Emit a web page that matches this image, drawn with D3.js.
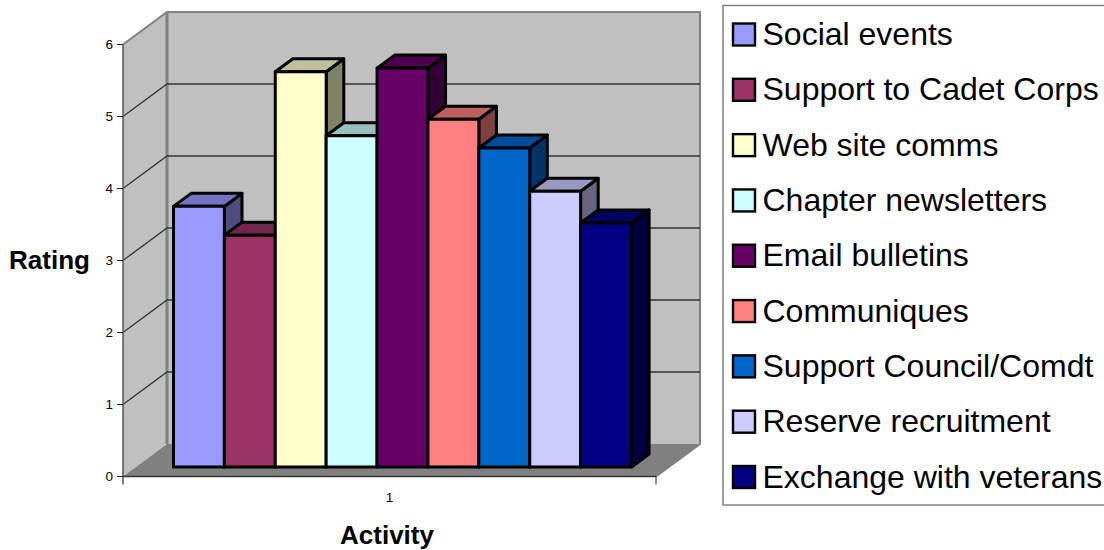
<!DOCTYPE html>
<html><head><meta charset="utf-8">
<script src="https://cdn.jsdelivr.net/npm/d3@7"></script>
<style>html,body{margin:0;padding:0;background:#fff;overflow:hidden}svg{display:block}text{font-family:"Liberation Sans",Arial,sans-serif;fill:#000}</style>
</head><body><svg id="c" width="1104" height="550"></svg>
<script>
const seriesNames = ["Social events","Support to Cadet Corps","Web site comms","Chapter newsletters","Email bulletins","Communiques","Support Council/Comdt","Reserve recruitment","Exchange with veterans"];
const ratings = [3.62,3.22,5.49,4.6,5.54,4.83,4.43,3.83,3.39];
const colors = ["#9999ff","#993366","#ffffcc","#ccffff","#660066","#ff8080","#0066cc","#ccccff","#000080"];
const yTicks = [0,1,2,3,4,5,6];
const categories = ["1"];

const svg = d3.select("#c");
const y = d3.scaleLinear().domain([0,6]).range([476.5,44.5]);
const xCat = d3.scaleBand().domain(categories).range([123,656]);
const depth = {x:44, y:-32.5};
const shift = {x:13.5, y:-9.5};
const bw = {x:17.6, y:-13};
const xBar = d3.scaleBand().domain(seriesNames).range([173.5,631.5]);
const poly = pts => "M"+pts.map(p=>p.join(",")).join("L")+"Z";
const shade = (c,k)=>{const r=d3.rgb(c);return d3.rgb(r.r*k,r.g*k,r.b*k).formatHex();};
const x0=xCat.range()[0], x1=xCat.range()[1];
const wall="#c0c0c0", edge="#808080";

// walls
svg.append("path").attr("d",poly([[x0,y(6)],[x0+depth.x,y(6)+depth.y],[x0+depth.x,y(0)+depth.y],[x0,y(0)]])).attr("fill",wall);
svg.append("rect").attr("x",x0+depth.x).attr("y",y(6)+depth.y).attr("width",x1-x0).attr("height",y(0)-y(6)).attr("fill",wall);
svg.append("path").attr("d",poly([[x0,y(0)],[x0+depth.x,y(0)+depth.y],[x1+depth.x,y(0)+depth.y],[x1,y(0)]])).attr("fill",edge);
// wall borders
svg.append("path").attr("d",`M${x0},${y(6)}L${x0+depth.x},${y(6)+depth.y}L${x1+depth.x},${y(6)+depth.y}L${x1+depth.x},${y(0)+depth.y}L${x1},${y(0)}`).attr("fill","none").attr("stroke",edge).attr("stroke-width",2);
svg.append("line").attr("x1",x0+depth.x).attr("x2",x0+depth.x).attr("y1",y(6)+depth.y).attr("y2",y(0)+depth.y).attr("stroke",edge).attr("stroke-width",3);
// gridlines
yTicks.filter(t=>t>0&&t<6).forEach(t=>{
  svg.append("path").attr("d",`M${x0},${y(t)}L${x0+depth.x},${y(t)+depth.y}L${x1+depth.x},${y(t)+depth.y}`).attr("fill","none").attr("stroke","#333").attr("stroke-width",1.3);
});
// axes
svg.append("line").attr("x1",x0).attr("x2",x0).attr("y1",y(6)).attr("y2",y(0)+8).attr("stroke","#555").attr("stroke-width",1.5);
svg.append("line").attr("x1",x0).attr("x2",x1).attr("y1",y(0)).attr("y2",y(0)).attr("stroke","#333").attr("stroke-width",1.5);
svg.append("line").attr("x1",x1).attr("x2",x1).attr("y1",y(0)).attr("y2",y(0)+8).attr("stroke","#222").attr("stroke-width",1);
yTicks.forEach(t=>{
  svg.append("line").attr("x1",x0-6).attr("x2",x0).attr("y1",y(t)).attr("y2",y(t)).attr("stroke","#222").attr("stroke-width",1);
  svg.append("text").attr("x",x0-10).attr("y",y(t)+4.5).attr("text-anchor","end").attr("font-size",13.5).text(t);
});
svg.append("text").attr("x",xCat("1")+xCat.bandwidth()/2).attr("y",502).attr("text-anchor","middle").attr("font-size",13.5).text(categories[0]);

// bars
const g = svg.append("g").attr("stroke","#000").attr("stroke-width",3).attr("stroke-linejoin","round");
seriesNames.forEach((n,i)=>{
  const l=xBar(n), r=l+xBar.bandwidth(), b=y(0)+shift.y, t=y(ratings[i])+shift.y;
  g.append("path").attr("d",poly([[r,t],[r+bw.x,t+bw.y],[r+bw.x,b+bw.y],[r,b]])).attr("fill",shade(colors[i],0.5));
  g.append("path").attr("d",poly([[l,t],[l+bw.x,t+bw.y],[r+bw.x,t+bw.y],[r,t]])).attr("fill",shade(colors[i],0.75));
  g.append("rect").attr("x",l).attr("y",t).attr("width",r-l).attr("height",b-t).attr("fill",colors[i]);
});

// axis titles
svg.append("text").attr("x",49.5).attr("y",268.5).attr("text-anchor","middle").attr("font-size",26).attr("font-weight","bold").text("Rating");
svg.append("text").attr("x",387).attr("y",544).attr("text-anchor","middle").attr("font-size",26).attr("font-weight","bold").text("Activity");

// legend
svg.append("rect").attr("x",723).attr("y",5.5).attr("width",400).attr("height",499.5).attr("fill","#fff").attr("stroke",edge).attr("stroke-width",1.5);
const leg = d3.scalePoint().domain(seriesNames).range([34.5,477]);
seriesNames.forEach((n,i)=>{
  svg.append("rect").attr("x",733).attr("y",leg(n)-11).attr("width",22).attr("height",22).attr("fill",colors[i]).attr("stroke","#000").attr("stroke-width",2.4);
  svg.append("text").attr("x",762.5).attr("y",leg(n)+10.5).attr("font-size",32).text(n);
});
</script></body></html>
